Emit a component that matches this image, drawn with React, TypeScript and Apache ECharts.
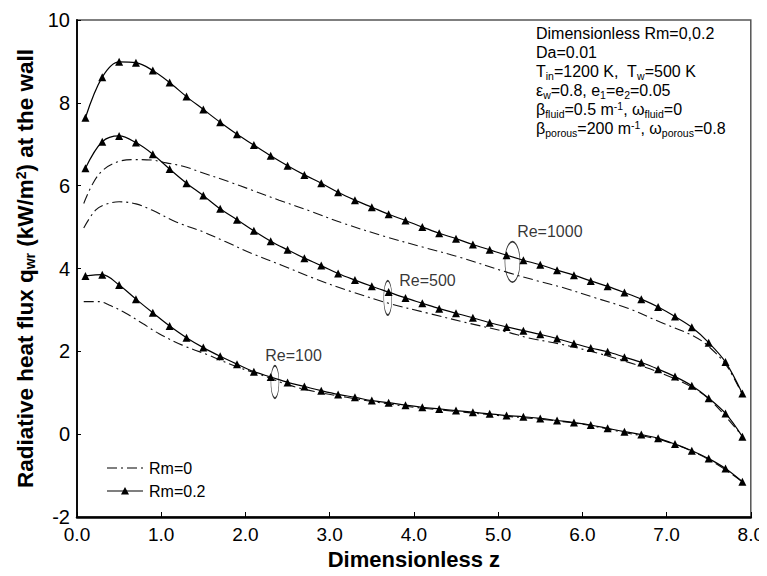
import React, { useEffect, useRef } from "react";
import * as echarts from "echarts";

const FONT = "'Liberation Sans', Arial, Helvetica, sans-serif";

// z positions of the Rm=0.2 marker points
const Z_MARK = [0.1, 0.3, 0.5, 0.7, 0.9, 1.1, 1.3, 1.5, 1.7, 1.9, 2.1, 2.3, 2.5, 2.7, 2.9, 3.1, 3.3, 3.5, 3.7, 3.9,
  4.1, 4.3, 4.5, 4.7, 4.9, 5.1, 5.3, 5.5, 5.7, 5.9, 6.1, 6.3, 6.5, 6.7, 6.9, 7.1, 7.3, 7.5, 7.7, 7.9];

const RE1000_RM02 = [7.64, 8.62, 8.99, 8.97, 8.78, 8.49, 8.15, 7.84, 7.53, 7.24, 6.98, 6.72, 6.48, 6.26, 6.06, 5.84, 5.65, 5.48, 5.31, 5.16,
  5.0, 4.85, 4.72, 4.58, 4.45, 4.32, 4.2, 4.09, 3.96, 3.84, 3.7, 3.57, 3.42, 3.26, 3.07, 2.84, 2.58, 2.21, 1.74, 0.98];
const RE500_RM02 = [6.42, 7.06, 7.2, 7.04, 6.76, 6.4, 6.06, 5.76, 5.44, 5.18, 4.91, 4.66, 4.45, 4.25, 4.07, 3.88, 3.72, 3.57, 3.43, 3.29,
  3.16, 3.03, 2.92, 2.81, 2.69, 2.59, 2.5, 2.41, 2.31, 2.19, 2.08, 1.99, 1.86, 1.73, 1.57, 1.39, 1.17, 0.87, 0.5, -0.06];
const RE100_RM02 = [3.82, 3.85, 3.6, 3.26, 2.93, 2.61, 2.33, 2.09, 1.88, 1.69, 1.51, 1.38, 1.25, 1.15, 1.05, 0.96, 0.89, 0.81, 0.76, 0.7,
  0.65, 0.61, 0.57, 0.53, 0.49, 0.45, 0.42, 0.38, 0.33, 0.28, 0.22, 0.14, 0.06, -0.01, -0.1, -0.24, -0.4, -0.59, -0.83, -1.15];

// Rm=0 curves (dash-dot)
const Z_RE1000_RM0 = [0.08, 0.19, 0.31, 0.49, 0.67, 0.88, 1.06, 1.26, 1.45, 1.81, 2.08, 2.4, 2.79, 3.15, 3.66, 4.1, 4.53, 5.12, 5.47, 5.75, 6.14, 6.54, 6.93, 7.33, 7.52, 7.72, 7.9];
const RE1000_RM0 = [5.57, 6.06, 6.38, 6.58, 6.63, 6.62, 6.55, 6.47, 6.34, 6.09, 5.89, 5.65, 5.37, 5.1, 4.77, 4.52, 4.28, 3.9, 3.7, 3.55, 3.3, 3.04, 2.7, 2.36, 2.08, 1.63, 0.95];
const Z_RE500_RM0 = [0.08, 0.22, 0.34, 0.5, 0.7, 0.89, 1.17, 1.49, 1.76, 2.08, 2.43, 2.79, 3.23, 3.7, 4.17, 4.65, 5.12, 5.35, 5.75, 6.14, 6.54, 6.93, 7.33, 7.56, 7.9];
const RE500_RM0 = [4.98, 5.41, 5.55, 5.61, 5.56, 5.41, 5.13, 4.89, 4.65, 4.36, 4.08, 3.78, 3.46, 3.16, 2.92, 2.68, 2.46, 2.33, 2.17, 1.98, 1.74, 1.48, 1.1, 0.74, -0.05];
const Z_RE100_RM0 = [0.08, 0.26, 0.38, 0.58, 0.78, 0.97, 1.25, 1.56, 1.88, 2.2, 2.51, 2.82, 3.2, 3.6, 4.0, 4.5, 5.0, 5.5, 6.0, 6.5, 7.0, 7.5, 7.9];
const RE100_RM0 = [3.2, 3.2, 3.12, 2.92, 2.67, 2.43, 2.15, 1.91, 1.64, 1.42, 1.19, 1.03, 0.89, 0.76, 0.65, 0.55, 0.45, 0.36, 0.24, 0.04, -0.18, -0.61, -1.15];

// Re group annotations: ellipse centres and label anchors
const RE_NAMES = ["Re=100", "Re=500", "Re=1000"];
const ELLIPSE_Z = [2.35, 3.69, 5.17];
const ELLIPSE_Y = [1.26, 3.29, 4.16];
const ELLIPSE_SIZE = [[8, 32], [8, 34], [15, 40]];
const LABEL_Z = [2.23, 3.82, 5.22];
const LABEL_Y = [1.91, 3.7, 4.9];

const LEGEND = ["Rm=0", "Rm=0.2"];
const X_TICKS = [0, 1, 2, 3, 4, 5, 6, 7, 8];

const NOTE_LINES = [
  "Dimensionless Rm=0,0.2",
  "Da=0.01",
  "T{sub|in}=1200 K,  T{sub|w}=500 K",
  "ε{sub|w}=0.8, e{sub|1}=e{sub|2}=0.05",
  "β{sub|fluid}=0.5 m{sup|-1}, ω{sub|fluid}=0",
  "β{sub|porous}=200 m{sup|-1}, ω{sub|porous}=0.8",
];

const DASH = [10, 4, 2, 4];

const pair = (xs: number[], ys: number[]) => xs.map((x, i) => [x, ys[i]]);

export default function App() {
  const ref = useRef<HTMLDivElement>(null);
  useEffect(() => {
    if (!ref.current) return;
    const chart = echarts.init(ref.current, null, { renderer: "svg" });
    const solid = (data: number[][]) => ({
      type: "line",
      name: LEGEND[1],
      data,
      smooth: 0.35,
      symbol: "triangle",
      symbolSize: 8,
      showSymbol: true,
      lineStyle: { color: "#000", width: 1.2 },
      itemStyle: { color: "#000" },
      z: 3,
    });
    const dashed = (data: number[][]) => ({
      type: "line",
      name: LEGEND[0],
      data,
      smooth: 0.35,
      symbol: "none",
      showSymbol: false,
      lineStyle: { color: "#111", width: 1.1, type: DASH },
      itemStyle: { color: "#111" },
      z: 2,
    });
    // legend drawn as graphic (line samples + labels)
    const lgX = 107, lgW = 36, lgY0 = 468, lgY1 = 491;
    const legendGraphic = [
      { type: "line", shape: { x1: lgX, y1: lgY0, x2: lgX + lgW, y2: lgY0 }, style: { stroke: "#555", lineWidth: 1.3, lineDash: DASH } },
      { type: "text", x: lgX + lgW + 6, y: lgY0, style: { text: LEGEND[0], fontFamily: FONT, fontSize: 16, fill: "#000", verticalAlign: "middle" } },
      { type: "line", shape: { x1: lgX, y1: lgY1, x2: lgX + lgW, y2: lgY1 }, style: { stroke: "#000", lineWidth: 1.2 } },
      { type: "polygon", shape: { points: [[lgX + lgW / 2 - 4, lgY1 + 3.5], [lgX + lgW / 2 + 4, lgY1 + 3.5], [lgX + lgW / 2, lgY1 - 4]] }, style: { fill: "#000" } },
      { type: "text", x: lgX + lgW + 6, y: lgY1, style: { text: LEGEND[1], fontFamily: FONT, fontSize: 16, fill: "#000", verticalAlign: "middle" } },
    ];
    const option: any = {
      animation: false,
      backgroundColor: "#fff",
      textStyle: { fontFamily: FONT },
      grid: { left: 77, right: 13, top: 20, bottom: 59, show: true, borderColor: "#555", borderWidth: 1.5 },
      xAxis: {
        type: "value",
        min: 0,
        max: 8,
        interval: 1,
        name: "Dimensionless z",
        nameLocation: "middle",
        nameGap: 30,
        nameTextStyle: { fontFamily: FONT, fontSize: 22, fontWeight: "bold", color: "#000" },
        axisLine: { show: true, onZero: false, lineStyle: { color: "#000", width: 2.5 } },
        axisTick: { show: true, inside: true, length: 5, lineStyle: { color: "#000", width: 1 } },
        axisLabel: {
          fontFamily: FONT,
          fontSize: 19,
          color: "#000",
          margin: 8,
          formatter: (v: number) => (X_TICKS.includes(v) ? v.toFixed(1) : ""),
        },
        splitLine: { show: false },
      },
      yAxis: {
        type: "value",
        min: -2,
        max: 10,
        interval: 2,
        name: "Radiative heat flux q{sub|wr} (kW/m{sup|2}) at the wall",
        nameLocation: "middle",
        nameGap: 36,
        nameRotate: 90,
        nameTextStyle: {
          fontFamily: FONT,
          fontSize: 22.5,
          fontWeight: "bold",
          color: "#000",
          rich: {
            sub: { fontFamily: FONT, fontSize: 14, fontWeight: "bold", verticalAlign: "bottom", lineHeight: 13 },
            sup: { fontFamily: FONT, fontSize: 14, fontWeight: "bold", verticalAlign: "top", lineHeight: 13 },
          },
        },
        axisLine: { show: true, onZero: false, lineStyle: { color: "#000", width: 1.8 } },
        axisTick: { show: true, inside: true, length: 4, lineStyle: { color: "#000", width: 1 } },
        axisLabel: { fontFamily: FONT, fontSize: 20, color: "#000", margin: 7 },
        splitLine: { show: false },
      },
      graphic: [
        {
          type: "text",
          left: 536,
          top: 24,
          silent: true,
          style: {
            text: NOTE_LINES.join("\n"),
            fontFamily: FONT,
            fontSize: 16,
            lineHeight: 19,
            fill: "#000",
            rich: {
              sub: { fontFamily: FONT, fontSize: 10.5, lineHeight: 10, verticalAlign: "bottom", fill: "#000" },
              sup: { fontFamily: FONT, fontSize: 10.5, lineHeight: 10, verticalAlign: "top", fill: "#000" },
            },
          },
        },
        ...legendGraphic,
      ],
      series: [
        dashed(pair(Z_RE1000_RM0, RE1000_RM0)),
        solid(pair(Z_MARK, RE1000_RM02)),
        dashed(pair(Z_RE500_RM0, RE500_RM0)),
        solid(pair(Z_MARK, RE500_RM02)),
        dashed(pair(Z_RE100_RM0, RE100_RM0)),
        solid(pair(Z_MARK, RE100_RM02)),
        {
          type: "scatter",
          name: "ellipses",
          silent: true,
          z: 4,
          data: ELLIPSE_Z.map((z, i) => ({ value: [z, ELLIPSE_Y[i]], symbolSize: ELLIPSE_SIZE[i] })),
          symbol: "circle",
          itemStyle: { color: "rgba(0,0,0,0)", borderColor: "#000", borderWidth: 1 },
        },
        {
          type: "scatter",
          name: "labels",
          silent: true,
          symbolSize: 1,
          itemStyle: { color: "rgba(0,0,0,0)" },
          data: LABEL_Z.map((z, i) => ({ name: RE_NAMES[i], value: [z, LABEL_Y[i]] })),
          label: {
            show: true,
            position: "right",
            distance: 0,
            formatter: (p: any) => p.name,
            fontFamily: FONT,
            fontSize: 16,
            color: "#000",
          },
        },
      ],
    };
    chart.setOption(option);
    return () => chart.dispose();
  }, []);
  return <div ref={ref} style={{ width: 767, height: 576, margin: -8 }} />;
}
